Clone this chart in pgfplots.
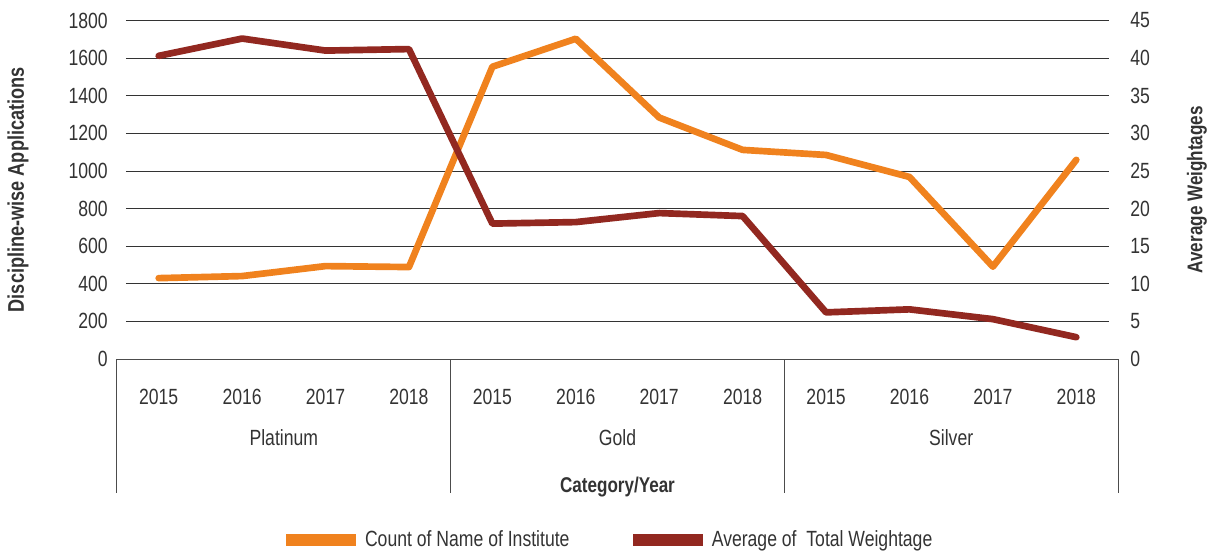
\documentclass[border=0pt]{standalone}
\usepackage{pgfplots}
\pgfplotsset{compat=1.18}
\usepackage{fontspec}
\setmainfont[FakeStretch=0.8]{Liberation Sans}
\newcommand{\px}{*0.75pt}
\definecolor{orng}{HTML}{F0821E}
\definecolor{dred}{HTML}{922820}
\definecolor{txt}{HTML}{333333}
\begin{document}
\begin{tikzpicture}
\pgfplotsset{
  base/.style={
    scale only axis,
    width=983\px, height=338.5\px,
    at={(0,0)}, anchor=south west,
    xmin=0.608, xmax=12.392,
    clip=false,
    axis line style={draw=none},
    tick style={draw=none},
    major tick length=0pt,
    tick label style={font=\fontsize{16.5}{19}\selectfont, text=txt},
    /pgf/number format/assume math mode=true,
    /pgf/number format/1000 sep={},
  }
}
\begin{axis}[base,
  ymin=0, ymax=1800, ytick={0,200,...,1800},
  ymajorgrids, grid style={black!80, line width=0.8\px},
  xtick={1,...,12},
  xticklabels={2015,2016,2017,2018,2015,2016,2017,2018,2015,2016,2017,2018},
  xticklabel style={anchor=center, yshift=-38\px, inner sep=0pt},
  yticklabel style={anchor=east, inner sep=0pt, xshift=-18\px},
  legend style={at={(axis description cs:0.49,0)}, anchor=center, yshift=-181\px,
    draw=none, fill=none, font=\fontsize{16.5}{19}\selectfont, text=txt,
    /tikz/every even column/.append style={column sep=55\px}},
  legend columns=2,
  legend cell align=left,
  legend image code/.code={\draw[#1, line width=12\px, line cap=butt] (0,0) -- (70\px,0);},
]
\addplot[orng, line width=5pt, line join=round, line cap=round] coordinates {
 (1,430) (2,441) (3,494) (4,489) (5,1554) (6,1703) (7,1284) (8,1112) (9,1085) (10,968) (11,491) (12,1059)};
\addlegendentry{Count of Name of Institute}
\addlegendimage{dred, line width=5pt}
\addlegendentry{Average of\ \ Total Weightage}
% category axis frame
\draw[black!70, line width=1\px] (axis cs:0.5,0) -- (axis cs:12.5,0);
\draw[black!70, line width=1\px] (axis cs:0.5,0) -- ([yshift=-134\px]axis cs:0.5,0);
\draw[black!70, line width=1\px] (axis cs:4.5,0) -- ([yshift=-134\px]axis cs:4.5,0);
\draw[black!70, line width=1\px] (axis cs:8.5,0) -- ([yshift=-134\px]axis cs:8.5,0);
\draw[black!70, line width=1\px] (axis cs:12.5,0) -- ([yshift=-134\px]axis cs:12.5,0);
\node[text=txt, font=\fontsize{16.5}{19}\selectfont] at ([yshift=-79\px]axis cs:2.5,0) {Platinum};
\node[text=txt, font=\fontsize{16.5}{19}\selectfont] at ([yshift=-79\px]axis cs:6.5,0) {Gold};
\node[text=txt, font=\fontsize{16.5}{19}\selectfont] at ([yshift=-79\px]axis cs:10.5,0) {Silver};
\node[text=txt, font=\bfseries\fontsize{16}{19}\selectfont] at ([yshift=-128\px]axis cs:6.5,0) {Category/Year};
\node[text=txt, font=\bfseries\fontsize{17}{20}\selectfont, rotate=90] at ([xshift=-108\px]axis description cs:0,0.5) {Discipline-wise Applications};
\end{axis}
\begin{axis}[base,
  ymin=0, ymax=45, ytick={0,5,...,45},
  xtick=\empty,
  axis y line*=right,
  yticklabel style={anchor=west, inner sep=0pt, xshift=21\px},
]
\addplot[dred, line width=5pt, line join=round, line cap=round] coordinates {
 (1,40.3) (2,42.6) (3,41.0) (4,41.2) (5,18.0) (6,18.2) (7,19.4) (8,19.0) (9,6.2) (10,6.6) (11,5.3) (12,2.9)};
\node[text=txt, font=\bfseries\fontsize{16}{19}\selectfont, rotate=90] at ([xshift=88\px]axis description cs:1,0.5) {Average Weightages};
\end{axis}
\pgfresetboundingbox
\path (-126\px,-195\px) rectangle (1090\px,359\px);
\end{tikzpicture}
\end{document}
